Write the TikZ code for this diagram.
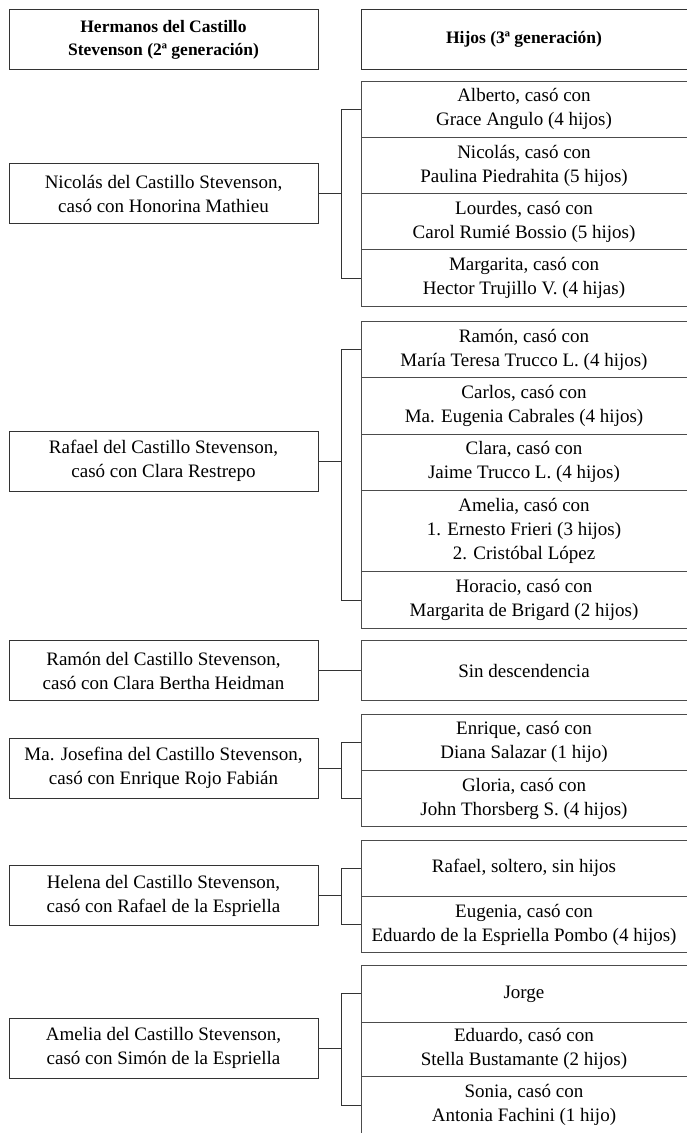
\documentclass[tikz,border=0pt]{standalone}
\usepackage{fontspec}
\setmainfont{Liberation Serif}
\tikzset{
  caja/.style={draw=black!80, line width=0.9pt, inner sep=0pt, outer sep=0pt,
    anchor=north west, align=center, font=\fontsize{19}{24}\selectfont},
  padre/.style={caja, minimum width=309pt, minimum height=60pt},
  hijo/.style={caja, draw=black!70, minimum width=326pt, minimum height=56.3pt},
  titulo/.style={caja, minimum height=60pt, font=\fontsize{17.5}{23}\selectfont\bfseries},
  rama/.style={draw=black!80, line width=0.9pt},
}
\begin{document}
\begin{tikzpicture}[x=1pt,y=-1pt]
    \useasboundingbox (0,0) rectangle (687,1133);
    \coordinate (eje) at (341,0);

    %encabezado
    \node[titulo, minimum width=309pt] (h1) at (9,9.5) {Hermanos del Castillo\\Stevenson (2ª generación)};
    \node[titulo, minimum width=326pt] (h2) at (361,9.5) {Hijos (3ª generación)};

    %Nicolás, 4 hijos
    \node[padre] (p1) at (9,163.7) {Nicolás del Castillo Stevenson,\\casó con Honorina Mathieu};
    \node[hijo] (c1a) at (361,81) {Alberto, casó con\\Grace Angulo (4 hijos)};
    \node[hijo] (c1b) at (361,137.3) {Nicolás, casó con\\Paulina Piedrahita (5 hijos)};
    \node[hijo] (c1c) at (361,193.6) {Lourdes, casó con\\Carol Rumié Bossio (5 hijos)};
    \node[hijo] (c1d) at (361,249.9) {Margarita, casó con\\Hector Trujillo V. (4 hijas)};

    %Rafael, 5 hijos
    \node[padre] (p2) at (9,431.3) {Rafael del Castillo Stevenson,\\casó con Clara Restrepo};
    \node[hijo] (c2a) at (361,321.3) {Ramón, casó con\\María Teresa Trucco L. (4 hijos)};
    \node[hijo] (c2b) at (361,377.7) {Carlos, casó con\\Ma. Eugenia Cabrales (4 hijos)};
    \node[hijo] (c2c) at (361,434.1) {Clara, casó con\\Jaime Trucco L. (4 hijos)};
    \node[hijo, minimum height=81.3pt] (c2d) at (361,490.5) {Amelia, casó con\\1. Ernesto Frieri (3 hijos)\\2. Cristóbal López};
    \node[hijo] (c2e) at (361,571.8) {Horacio, casó con\\Margarita de Brigard (2 hijos)};

    %Ramón
    \node[padre] (p3) at (9,640.7) {Ramón del Castillo Stevenson,\\casó con Clara Bertha Heidman};
    \node[hijo, minimum height=60pt] (c3) at (361,640.7) {Sin descendencia};

    %Ma. Josefina, 2 hijos
    \node[padre] (p4) at (9,738.3) {Ma. Josefina del Castillo Stevenson,\\casó con Enrique Rojo Fabián};
    \node[hijo] (c4a) at (361,714) {Enrique, casó con\\Diana Salazar (1 hijo)};
    \node[hijo] (c4b) at (361,770.3) {Gloria, casó con\\John Thorsberg S. (4 hijos)};

    %Helena, 2 hijos
    \node[padre] (p5) at (9,865.7) {Helena del Castillo Stevenson,\\casó con Rafael de la Espriella};
    \node[hijo] (c5a) at (361,840) {Rafael, soltero, sin hijos};
    \node[hijo] (c5b) at (361,896.3) {Eugenia, casó con\\Eduardo de la Espriella Pombo (4 hijos)};

    %Amelia, 3 hijos
    \node[padre] (p6) at (9,1018) {Amelia del Castillo Stevenson,\\casó con Simón de la Espriella};
    \node[hijo] (c6a) at (361,965.7) {Jorge};
    \node[hijo, minimum height=54.3pt] (c6b) at (361,1022) {Eduardo, casó con\\Stella Bustamante (2 hijos)};
    \node[hijo, minimum height=58pt] (c6c) at (361,1076.3) {Sonia, casó con\\Antonia Fachini (1 hijo)};

    %ramas
    \draw[rama] (c1a.west) -- (c1a.west -| eje) |- (c1d.west);
    \draw[rama] (p1.east) -- (p1.east -| eje);
    \draw[rama] (c2a.west) -- (c2a.west -| eje) |- (c2e.west);
    \draw[rama] (p2.east) -- (p2.east -| eje);
    \draw[rama] (p3.east) -- (c3.west);
    \draw[rama] (c4a.west) -- (c4a.west -| eje) |- (c4b.west);
    \draw[rama] (p4.east) -- (p4.east -| eje);
    \draw[rama] (c5a.west) -- (c5a.west -| eje) |- (c5b.west);
    \draw[rama] (p5.east) -- (p5.east -| eje);
    \draw[rama] (c6a.west) -- (c6a.west -| eje) |- (c6c.west);
    \draw[rama] (p6.east) -- (p6.east -| eje);

\end{tikzpicture}
\end{document}
